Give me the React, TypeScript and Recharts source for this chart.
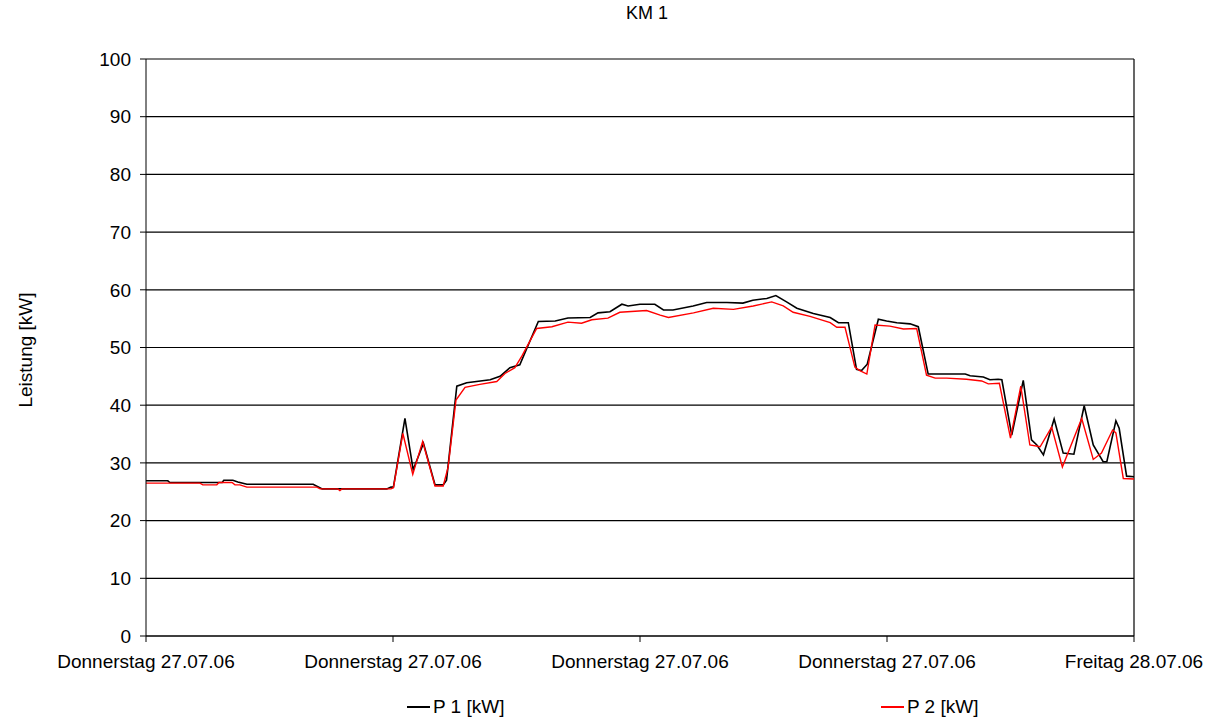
import React from "react";
import {
  LineChart,
  Line,
  XAxis,
  YAxis,
  CartesianGrid,
  Legend,
  ReferenceLine,
} from "recharts";

// Hours since Thursday 27.07.06 00:00
const timesP1 = [
  0, 0.53, 0.58, 1.85, 1.89, 2.11, 2.23, 2.45, 4.06, 4.28, 5.85, 5.95, 6.01,
  6.29, 6.49, 6.74, 7.02, 7.22, 7.3, 7.55, 7.79, 8.36, 8.6, 8.84, 9.08, 9.53,
  9.94, 10.25, 10.79, 10.98, 11.27, 11.56, 11.71, 12.0, 12.36, 12.57, 12.8,
  13.29, 13.62, 14.11, 14.5, 14.74, 15.08, 15.3, 15.56, 15.81, 16.21, 16.62,
  16.82, 17.06, 17.26, 17.38, 17.52, 17.79, 17.99, 18.24, 18.56, 18.76, 19.0,
  19.9, 20.02, 20.34, 20.5, 20.7, 20.79, 21.03, 21.31, 21.51, 21.64, 21.8,
  22.06, 22.28, 22.54, 22.79, 23.01, 23.25, 23.34, 23.56, 23.64, 23.82, 24.0,
];
const valuesP1 = [
  26.9, 26.9, 26.6, 26.6, 27.0, 27.0, 26.7, 26.3, 26.3, 25.5, 25.5, 25.8, 25.8,
  37.7, 28.8, 33.4, 26.2, 26.2, 27.0, 43.3, 43.9, 44.4, 45.0, 46.5, 47.0, 54.5,
  54.6, 55.1, 55.2, 56.0, 56.2, 57.5, 57.2, 57.5, 57.5, 56.5, 56.5,
  57.2, 57.8, 57.8, 57.7, 58.2, 58.5, 59.0, 57.9, 56.8, 55.9, 55.2,
  54.3, 54.3, 46.2, 46.0, 47.1, 54.9, 54.6, 54.3, 54.1, 53.6, 45.4,
  45.4, 45.1, 44.9, 44.4, 44.5, 44.4, 34.8, 44.3, 34.0, 33.1, 31.4,
  37.6, 31.7, 31.5, 39.9, 33.1, 30.2, 30.2, 37.3, 36.0, 27.7, 27.6,
];

const timesP2 = [
  0, 1.31, 1.38, 1.72, 1.77, 2.09, 2.16, 2.28, 2.45, 4.15, 4.23, 4.66, 4.71,
  4.76, 5.95, 6.01, 6.24, 6.48, 6.72, 7.02, 7.22, 7.34, 7.53, 7.75, 8.11, 8.52,
  8.72, 8.96, 9.13, 9.49, 9.86, 10.25, 10.58, 10.83, 11.22, 11.51, 12.16,
  12.49, 12.69, 13.3, 13.78, 14.27, 14.75, 15.2, 15.48, 15.72, 16.13, 16.62,
  16.78, 16.98, 17.22, 17.34, 17.51, 17.71, 18.07, 18.4, 18.72, 18.96, 19.17,
  19.45, 19.93, 20.3, 20.46, 20.73, 21.0, 21.25, 21.47, 21.72, 22.0, 22.26,
  22.73, 23.01, 23.21, 23.48, 23.56, 23.74, 24.0,
];
const valuesP2 = [
  26.5, 26.5, 26.2, 26.2, 26.6, 26.6, 26.2, 26.2, 25.8, 25.8, 25.5, 25.5, 25.2,
  25.5, 25.5, 25.7, 35.1, 28.0, 33.7, 26.0, 26.0, 29.3, 40.9, 43.1, 43.6, 44.1,
  45.5, 46.5, 48.5, 53.3, 53.6, 54.4, 54.2, 54.8, 55.1, 56.1, 56.4,
  55.6, 55.2, 56.0, 56.8, 56.6, 57.2, 57.9, 57.2, 56.1, 55.4, 54.3,
  53.5, 53.5, 46.6, 46.0, 45.4, 53.9, 53.7, 53.2, 53.3, 45.2, 44.7,
  44.7, 44.5, 44.2, 43.7, 43.8, 34.3, 43.3, 33.1, 32.8, 36.2, 29.3,
  37.7, 30.6, 31.7, 35.7, 35.2, 27.3, 27.2,
];

const xTicks = [0, 6, 12, 18, 24];
const xTickLabels = [
  "Donnerstag 27.07.06",
  "Donnerstag 27.07.06",
  "Donnerstag 27.07.06",
  "Donnerstag 27.07.06",
  "Freitag 28.07.06",
];
const yTicks = [0, 10, 20, 30, 40, 50, 60, 70, 80, 90, 100];

const seriesNames = ["P 1 [kW]", "P 2 [kW]"];
const seriesColors = ["#000000", "#ff0000"];

const dataP1 = timesP1.map((t, i) => ({ t, v: valuesP1[i] }));
const dataP2 = timesP2.map((t, i) => ({ t, v: valuesP2[i] }));

const FONT = "'Liberation Sans', Arial, sans-serif";

const LegendContent = () => {
  const items = [
    { name: seriesNames[0], color: seriesColors[0], left: 407 },
    { name: seriesNames[1], color: seriesColors[1], left: 881 },
  ];
  return (
    <div style={{ position: "relative", width: 1219, height: 24 }}>
      {items.map((it) => (
        <div
          key={it.name}
          style={{
            position: "absolute",
            left: it.left,
            top: 0,
            display: "flex",
            alignItems: "center",
            fontFamily: FONT,
            fontSize: 19,
            color: "#000",
            whiteSpace: "nowrap",
          }}
        >
          <span
            style={{
              display: "inline-block",
              width: 23,
              height: 0,
              borderTop: `2px solid ${it.color}`,
              marginRight: 3,
            }}
          />
          <span>{it.name}</span>
        </div>
      ))}
    </div>
  );
};

const YLabel = () => (
  <text
    x={25}
    y={350}
    transform="rotate(-90 25 350)"
    textAnchor="middle"
    dominantBaseline="central"
    fontFamily={FONT}
    fontSize={19}
    fill="#000"
  >
    Leistung [kW]
  </text>
);

export default function App() {
  return (
    <div
      style={{
        position: "absolute",
        left: 0,
        top: 0,
        width: 1219,
        height: 719,
        background: "#fff",
      }}
    >
      <div
        style={{
          position: "absolute",
          left: 0,
          width: 1294,
          top: 3,
          textAlign: "center",
          fontFamily: FONT,
          fontSize: 18,
          color: "#000",
        }}
      >
        KM 1
      </div>
      <LineChart
        width={1219}
        height={719}
        margin={{ top: 59, right: 85, left: 0, bottom: 0 }}
        style={{ position: "absolute", left: 0, top: 0 }}
      >
        <CartesianGrid
          vertical={false}
          stroke="#000"
          strokeWidth={1.2}
          horizontalValues={yTicks}
        />
        <XAxis
          dataKey="t"
          type="number"
          domain={[0, 24]}
          ticks={xTicks}
          tickFormatter={(v: number) => xTickLabels[xTicks.indexOf(v)]}
          height={59}
          tickSize={6}
          tickMargin={13}
          stroke="#000"
          tick={{ fill: "#000", fontFamily: FONT, fontSize: 19 }}
          allowDuplicatedCategory={false}
        />
        <YAxis
          type="number"
          domain={[0, 100]}
          ticks={yTicks}
          width={146}
          tickSize={6}
          tickMargin={9}
          stroke="#000"
          tick={{ fill: "#000", fontFamily: FONT, fontSize: 19 }}
          label={<YLabel />}
        />
        <ReferenceLine x={24} stroke="#000" strokeWidth={1.2} />
        <Line
          data={dataP1}
          dataKey="v"
          name={seriesNames[0]}
          stroke={seriesColors[0]}
          strokeWidth={1.6}
          dot={false}
          isAnimationActive={false}
          type="linear"
        />
        <Line
          data={dataP2}
          dataKey="v"
          name={seriesNames[1]}
          stroke={seriesColors[1]}
          strokeWidth={1.4}
          dot={false}
          isAnimationActive={false}
          type="linear"
        />
        <Legend
          content={<LegendContent />}
          wrapperStyle={{ position: "absolute", left: 0, top: 696, width: 1219 }}
        />
      </LineChart>
    </div>
  );
}
